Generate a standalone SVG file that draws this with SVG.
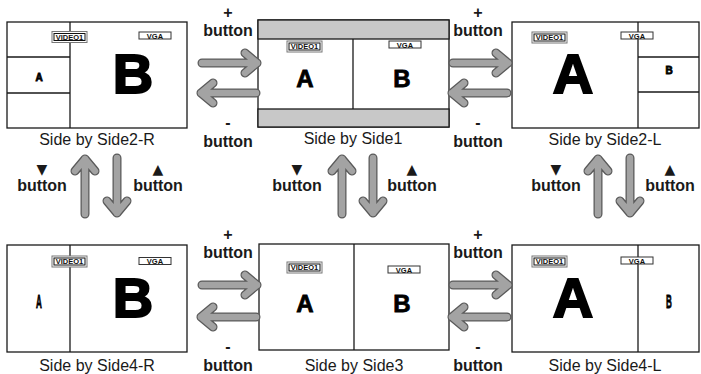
<svg xmlns="http://www.w3.org/2000/svg" xmlns:xlink="http://www.w3.org/1999/xlink" width="701" height="374" viewBox="0 0 701 374">
<style>
.frame{fill:#fff;stroke:#1a1a1a;stroke-width:1.3}
.ln{stroke:#1a1a1a;stroke-width:1.3;fill:none}
.band{fill:#c8c8c8;stroke:#1a1a1a;stroke-width:1.3}
.cap{font-family:"Liberation Sans",Arial,sans-serif;font-size:16px;fill:#1a1a1a;text-anchor:middle}
.btn{font-family:"Liberation Sans",Arial,sans-serif;font-size:16px;font-weight:bold;fill:#1a1a1a;text-anchor:middle}
.tri{font-family:"DejaVu Sans",sans-serif;font-size:14px;fill:#1a1a1a;text-anchor:middle}
.big{font-family:"Liberation Sans",Arial,sans-serif;font-weight:bold;fill:#000;stroke:#000;stroke-width:0.8;text-anchor:middle}
.bg{stroke-width:2}
.tag{font-family:"Liberation Sans",Arial,sans-serif;font-weight:bold;font-size:7.5px;fill:#111;text-anchor:middle}
.vo{fill:#fff;stroke:#777;stroke-width:1}
.vi{fill:none;stroke:#111;stroke-width:1}
.vga{fill:#fff;stroke:#333;stroke-width:1}
.ao{fill:none;stroke:#5a5a5a;stroke-width:9;stroke-linecap:round;stroke-linejoin:round}
.ai{fill:none;stroke:#a3a3a3;stroke-width:6.5;stroke-linecap:round;stroke-linejoin:round}
</style>
<defs>
<g id="arrow">
<path class="ao" d="M-56,0 H-1 M-13,-10 L-1,0 L-13,10"/>
<path class="ai" d="M-56,0 H-1 M-13,-10 L-1,0 L-13,10"/>
</g>
<g id="video1">
<rect class="vo" x="0" y="0" width="35" height="11"/>
<rect class="vi" x="2" y="2" width="31" height="7"/>
<text class="tag" x="17.5" y="8.3">VIDEO1</text>
</g>
<g id="vgatag">
<rect class="vga" x="0" y="0" width="32" height="7"/>
<text class="tag" x="16" y="6.5" font-size="7">VGA</text>
</g>
</defs>

<g id="sbs2r">
<rect class="frame" x="7" y="22" width="180" height="106"/>
<path class="ln" d="M70,22 V128 M7,57 H70 M7,93 H70"/>
<use xlink:href="#video1" x="52" y="31.5"/>
<use xlink:href="#vgatag" x="139" y="32"/>
<text class="big" x="39" y="81" font-size="10" stroke-width="0.3">A</text>
<text class="big bg" x="133" y="93" font-size="56">B</text>
<text class="cap" x="97" y="145">Side by Side2-R</text>
</g>

<g id="sbs1">
<rect class="frame" x="258" y="20" width="191" height="107"/>
<rect class="band" x="258" y="20" width="191" height="19"/>
<rect class="band" x="258" y="109" width="191" height="18"/>
<path class="ln" d="M353,39 V109"/>
<use xlink:href="#video1" x="287" y="41"/>
<use xlink:href="#vgatag" x="389" y="41"/>
<text class="big" x="305" y="87" font-size="24">A</text>
<text class="big" x="402" y="87" font-size="24">B</text>
<text class="cap" x="353" y="144">Side by Side1</text>
</g>

<g id="sbs2l">
<rect class="frame" x="512" y="22" width="187" height="106"/>
<path class="ln" d="M638,22 V128 M638,57 H699 M638,92 H699"/>
<use xlink:href="#video1" x="532" y="32"/>
<use xlink:href="#vgatag" x="621" y="32"/>
<text class="big bg" x="573" y="93" font-size="56">A</text>
<text class="big" x="669" y="74" font-size="10" stroke-width="0.3">B</text>
<text class="cap" x="605" y="145">Side by Side2-L</text>
</g>

<g id="sbs4r">
<rect class="frame" x="7" y="245" width="180" height="107"/>
<path class="ln" d="M70,245 V352"/>
<use xlink:href="#video1" x="52" y="256"/>
<use xlink:href="#vgatag" x="139" y="257.5"/>
<text class="big" font-size="18" transform="translate(39,308) scale(0.45,1)">A</text>
<text class="big bg" x="133" y="317" font-size="56">B</text>
<text class="cap" x="97" y="371">Side by Side4-R</text>
</g>

<g id="sbs3">
<rect class="frame" x="259" y="244" width="190" height="106"/>
<path class="ln" d="M354,244 V350"/>
<use xlink:href="#video1" x="287" y="262"/>
<use xlink:href="#vgatag" x="388" y="266"/>
<text class="big" x="305" y="312" font-size="24">A</text>
<text class="big" x="402" y="312" font-size="24">B</text>
<text class="cap" x="354" y="371">Side by Side3</text>
</g>

<g id="sbs4l">
<rect class="frame" x="512" y="245" width="187" height="107"/>
<path class="ln" d="M638,245 V352"/>
<use xlink:href="#video1" x="532" y="256"/>
<use xlink:href="#vgatag" x="621" y="257"/>
<text class="big bg" x="573" y="317" font-size="56">A</text>
<text class="big" font-size="18" transform="translate(669,308) scale(0.45,1)">B</text>
<text class="cap" x="605" y="371">Side by Side4-L</text>
</g>

<g id="connectors">
<use xlink:href="#arrow" transform="translate(258,63)"/>
<use xlink:href="#arrow" transform="translate(200,93) rotate(180)"/>
<use xlink:href="#arrow" transform="translate(509,63)"/>
<use xlink:href="#arrow" transform="translate(451,93) rotate(180)"/>
<use xlink:href="#arrow" transform="translate(258,285)"/>
<use xlink:href="#arrow" transform="translate(200,317) rotate(180)"/>
<use xlink:href="#arrow" transform="translate(509,285)"/>
<use xlink:href="#arrow" transform="translate(451,317) rotate(180)"/>
<use xlink:href="#arrow" transform="translate(85,158) rotate(-90)"/>
<use xlink:href="#arrow" transform="translate(117,214) rotate(90)"/>
<use xlink:href="#arrow" transform="translate(342,158) rotate(-90)"/>
<use xlink:href="#arrow" transform="translate(373,214) rotate(90)"/>
<use xlink:href="#arrow" transform="translate(598,158) rotate(-90)"/>
<use xlink:href="#arrow" transform="translate(630,214) rotate(90)"/>
</g>

<g id="labels">
<text class="btn" x="228" y="18">+</text>
<text class="btn" x="228" y="36">button</text>
<text class="btn" x="228" y="128">-</text>
<text class="btn" x="228" y="147">button</text>
<text class="btn" x="478" y="18">+</text>
<text class="btn" x="478" y="36">button</text>
<text class="btn" x="478" y="128">-</text>
<text class="btn" x="478" y="147">button</text>
<text class="btn" x="228" y="240">+</text>
<text class="btn" x="228" y="258">button</text>
<text class="btn" x="228" y="352">-</text>
<text class="btn" x="228" y="371">button</text>
<text class="btn" x="478" y="240">+</text>
<text class="btn" x="478" y="258">button</text>
<text class="btn" x="478" y="352">-</text>
<text class="btn" x="478" y="371">button</text>
<text class="tri" x="42" y="174">▼</text>
<text class="btn" x="42" y="191">button</text>
<text class="tri" x="158" y="174">▲</text>
<text class="btn" x="158" y="191">button</text>
<text class="tri" x="297" y="174">▼</text>
<text class="btn" x="297" y="191">button</text>
<text class="tri" x="412" y="174">▲</text>
<text class="btn" x="412" y="191">button</text>
<text class="tri" x="556" y="174">▼</text>
<text class="btn" x="556" y="191">button</text>
<text class="tri" x="670" y="174">▲</text>
<text class="btn" x="670" y="191">button</text>
</g>
</svg>
